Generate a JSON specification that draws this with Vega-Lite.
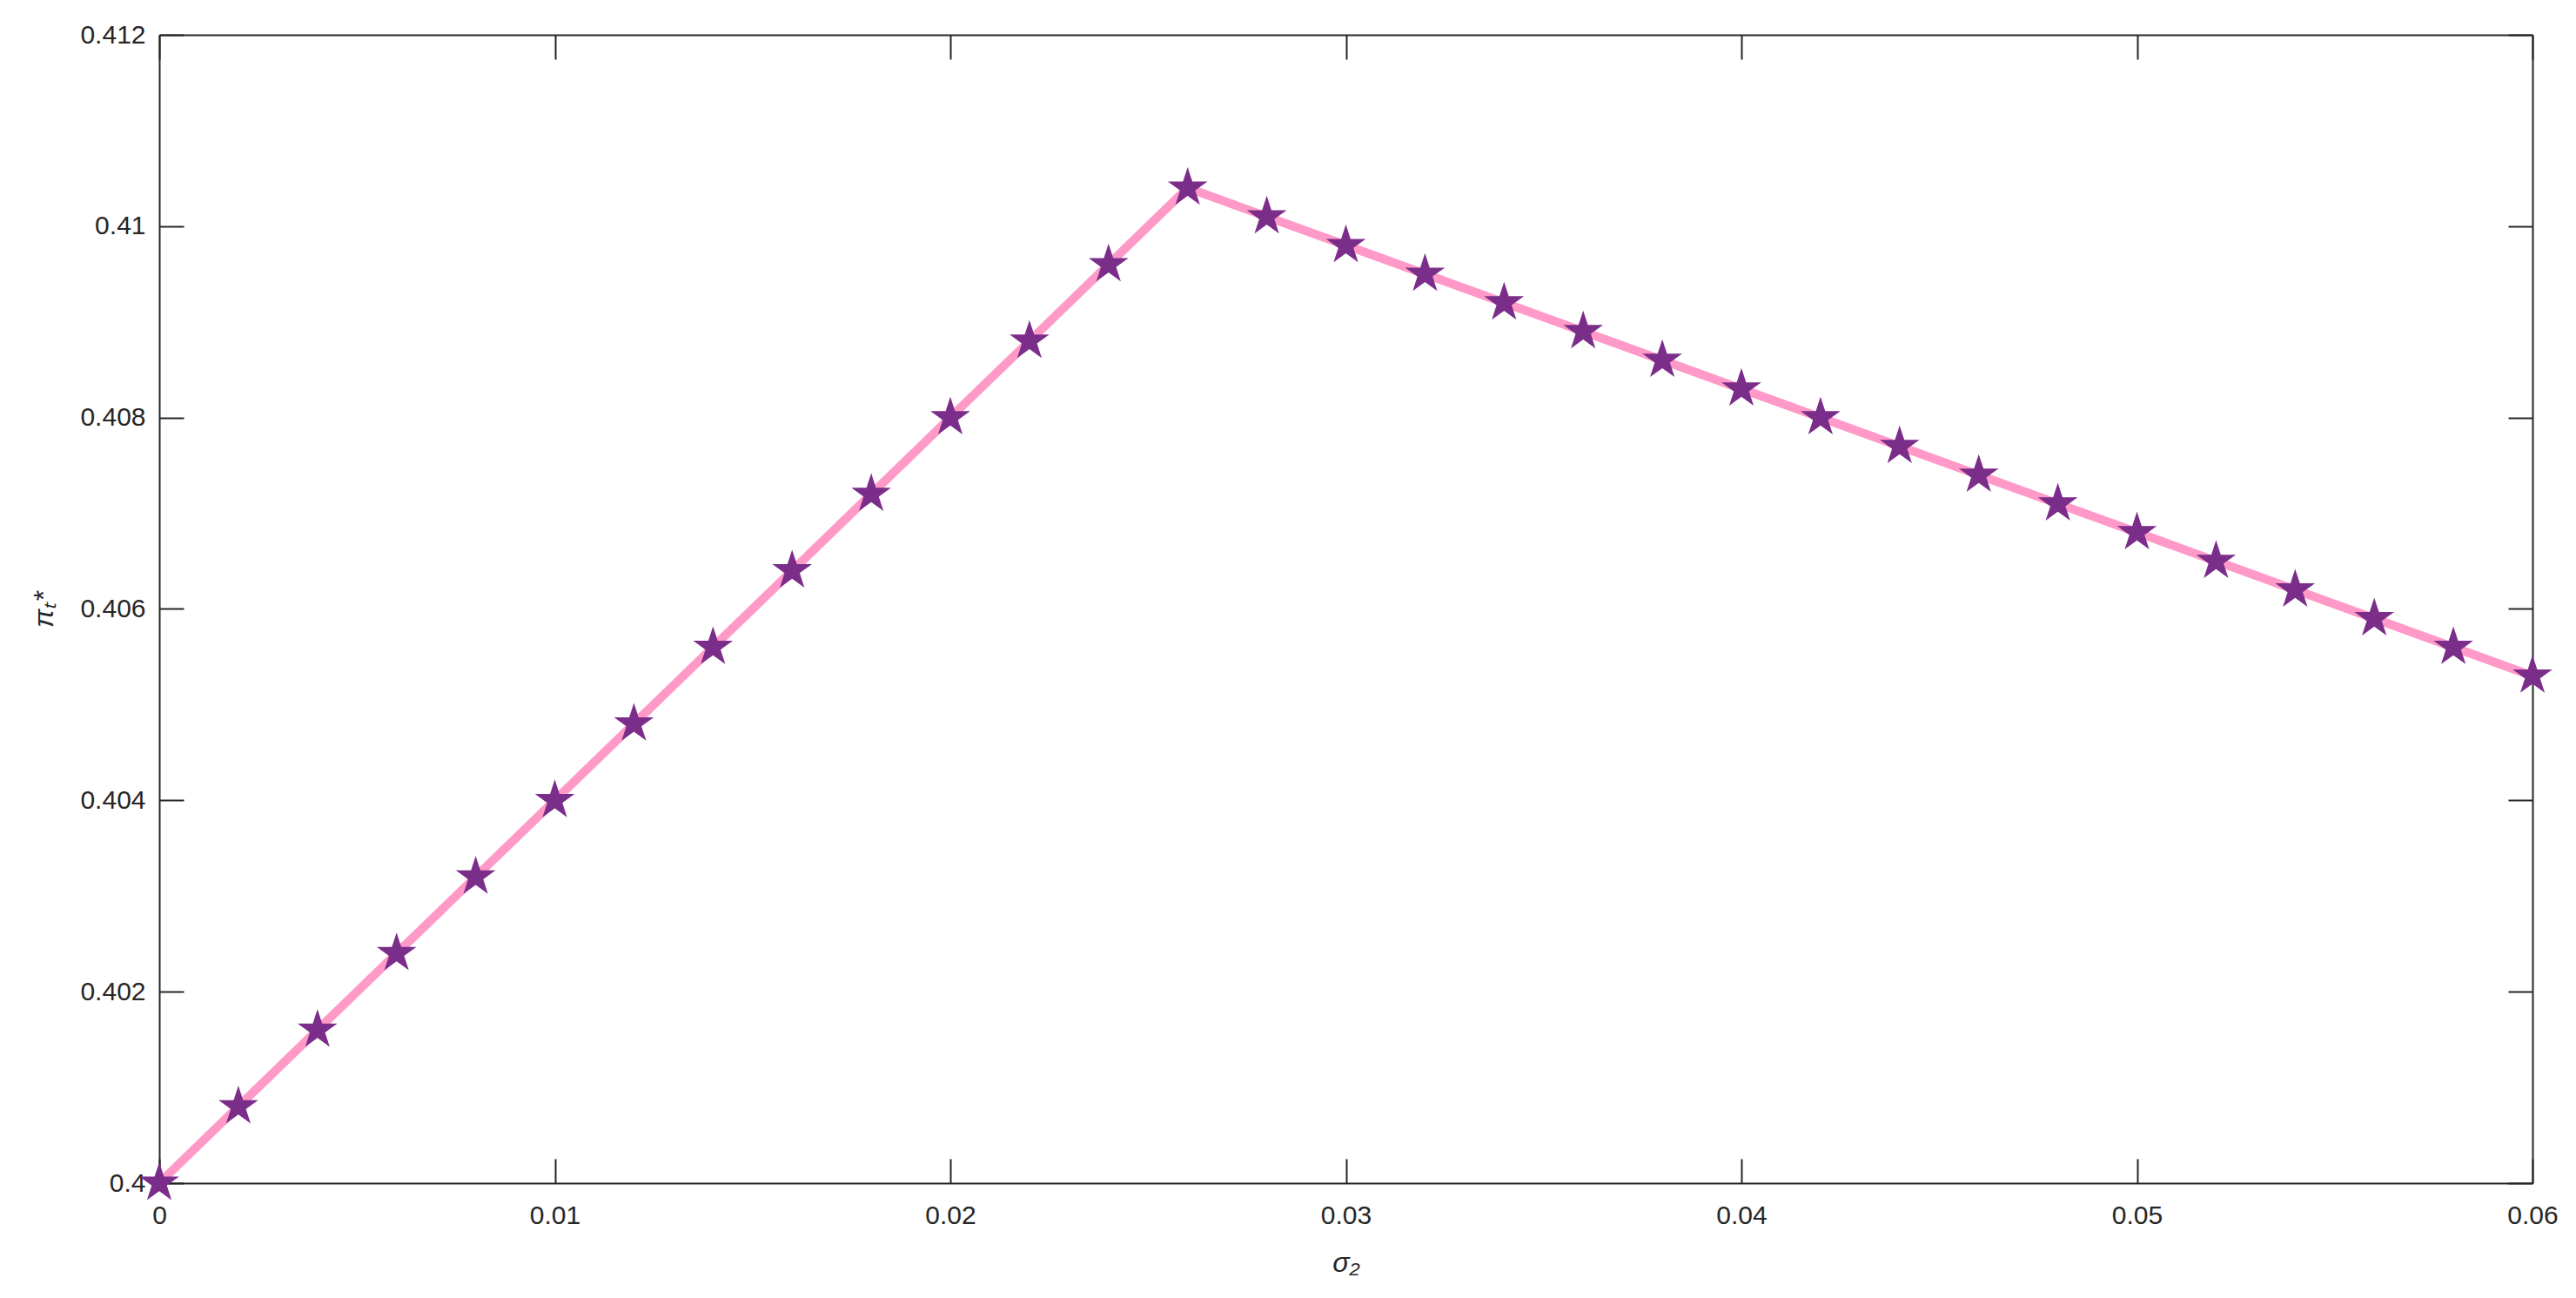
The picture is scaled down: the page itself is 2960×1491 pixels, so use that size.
{
  "$schema": "https://vega.github.io/schema/vega-lite/v6.json",
  "width": 2727,
  "height": 1319,
  "autosize": {"type": "none"},
  "padding": {"left": 183, "top": 40, "right": 50, "bottom": 132},
  "background": "white",
  "config": {
    "view": {"stroke": null},
    "font": "Liberation Sans",
    "axis": {
      "grid": false,
      "domainColor": "#262626",
      "domainWidth": 2,
      "tickColor": "#262626",
      "tickWidth": 2,
      "tickSize": -28,
      "labelFont": "Liberation Sans",
      "labelFontSize": 30,
      "labelColor": "#262626",
      "titleFont": "Liberation Sans",
      "titleFontSize": 32,
      "titleFontWeight": "normal",
      "titleFontStyle": "italic",
      "titleColor": "#262626",
      "labelFlush": false,
      "labelOverlap": false
    }
  },
  "data": {
    "values": [
      {"s": 0.000, "p": 0.4000},
      {"s": 0.002, "p": 0.4008},
      {"s": 0.004, "p": 0.4016},
      {"s": 0.006, "p": 0.4024},
      {"s": 0.008, "p": 0.4032},
      {"s": 0.010, "p": 0.4040},
      {"s": 0.012, "p": 0.4048},
      {"s": 0.014, "p": 0.4056},
      {"s": 0.016, "p": 0.4064},
      {"s": 0.018, "p": 0.4072},
      {"s": 0.020, "p": 0.4080},
      {"s": 0.022, "p": 0.4088},
      {"s": 0.024, "p": 0.4096},
      {"s": 0.026, "p": 0.4104},
      {"s": 0.028, "p": 0.4101},
      {"s": 0.030, "p": 0.4098},
      {"s": 0.032, "p": 0.4095},
      {"s": 0.034, "p": 0.4092},
      {"s": 0.036, "p": 0.4089},
      {"s": 0.038, "p": 0.4086},
      {"s": 0.040, "p": 0.4083},
      {"s": 0.042, "p": 0.4080},
      {"s": 0.044, "p": 0.4077},
      {"s": 0.046, "p": 0.4074},
      {"s": 0.048, "p": 0.4071},
      {"s": 0.050, "p": 0.4068},
      {"s": 0.052, "p": 0.4065},
      {"s": 0.054, "p": 0.4062},
      {"s": 0.056, "p": 0.4059},
      {"s": 0.058, "p": 0.4056},
      {"s": 0.060, "p": 0.4053}
    ]
  },
  "layer": [
    {
      "mark": {"type": "line", "color": "#FF99C8", "strokeWidth": 10},
      "encoding": {
        "x": {
          "field": "s", "type": "quantitative",
          "scale": {"domain": [0, 0.06], "nice": false, "zero": false},
          "axis": {
            "orient": "bottom",
            "values": [0, 0.01, 0.02, 0.03, 0.04, 0.05, 0.06],
            "format": "~g",
            "labelPadding": 50,
            "title": "σ₂",
            "titleY": 91,
            "titleBaseline": "middle"
          }
        },
        "y": {
          "field": "p", "type": "quantitative",
          "scale": {"domain": [0.4, 0.412], "nice": false, "zero": false},
          "axis": {
            "orient": "left",
            "values": [0.4, 0.402, 0.404, 0.406, 0.408, 0.41, 0.412],
            "format": "~g",
            "labelPadding": 44,
            "title": "πₜ*",
            "titleX": -133,
            "titleBaseline": "middle",
            "titleAngle": -90
          }
        }
      }
    },
    {
      "mark": {
        "type": "point",
        "filled": true,
        "opacity": 1,
        "color": "#7B2D8A",
        "size": 2300,
        "shape": "M0,-1L0.225,-0.309L0.951,-0.309L0.363,0.118L0.588,0.809L0,0.382L-0.588,0.809L-0.363,0.118L-0.951,-0.309L-0.225,-0.309Z"
      },
      "encoding": {
        "x": {
          "field": "s", "type": "quantitative",
          "axis": {
            "orient": "top",
            "values": [0, 0.01, 0.02, 0.03, 0.04, 0.05, 0.06],
            "labels": false,
            "title": null
          }
        },
        "y": {
          "field": "p", "type": "quantitative",
          "axis": {
            "orient": "right",
            "values": [0.4, 0.402, 0.404, 0.406, 0.408, 0.41, 0.412],
            "labels": false,
            "title": null
          }
        }
      }
    }
  ],
  "resolve": {"axis": {"x": "independent", "y": "independent"}}
}
